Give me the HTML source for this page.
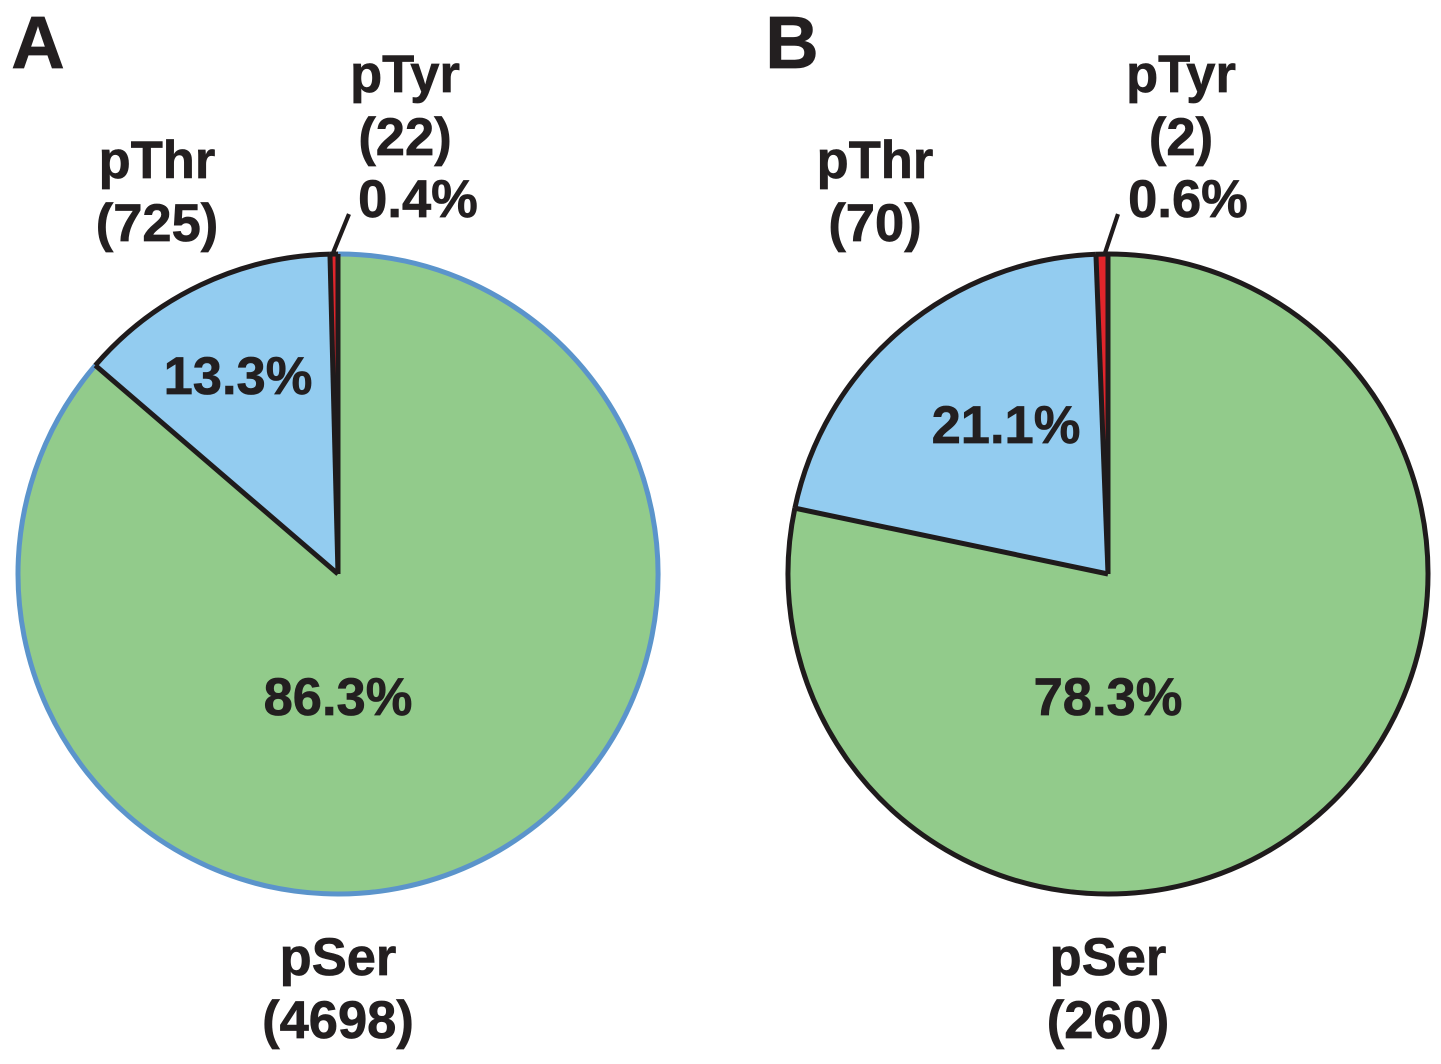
<!DOCTYPE html>
<html lang="en">
<head>
<meta charset="utf-8">
<title>Phosphosite distribution pie charts</title>
<style>
html,body{margin:0;padding:0;background:#fff;}
body{width:1441px;height:1064px;overflow:hidden;}
svg{display:block;}
text{font-family:"Liberation Sans",Arial,sans-serif;font-weight:700;fill:#231f20;stroke:#231f20;stroke-width:0.7px;text-anchor:middle;}
</style>
</head>
<body>
<svg id="chart" width="1441" height="1064" viewBox="0 0 1441 1064" xmlns="http://www.w3.org/2000/svg"></svg>
<script>
const categories = ['pSer', 'pThr', 'pTyr'];
const valuesA = [86.3, 13.3, 0.4];
const valuesB = [78.3, 21.1, 0.6];
const countsA = [4698, 725, 22];
const countsB = [260, 70, 2];

const NS = 'http://www.w3.org/2000/svg';
const svg = document.getElementById('chart');
const RADIUS = 320;
const CENTER_Y = 574;
const fills = ['#92cb8b', '#93ccf0', '#e1252b'];
const INK = '#1f1b1c';
const SIZE = 52.5;

function angleOf(cumulative, total) {
  return cumulative / total * 2 * Math.PI;
}
function pointAt(cx, angle, r) {
  return [cx + r * Math.sin(angle), CENTER_Y - r * Math.cos(angle)];
}
function make(tag, attrs) {
  const el = document.createElementNS(NS, tag);
  for (const k in attrs) el.setAttribute(k, attrs[k]);
  return el;
}
function label(parent, content, x, y, size, name) {
  const t = make('text', {x: x, y: y, 'font-size': size});
  t.textContent = content;
  
  
  parent.appendChild(t);
}
function arcPath(cx, a0, a1) {
  const p0 = pointAt(cx, a0, RADIUS);
  const p1 = pointAt(cx, a1, RADIUS);
  const large = a1 - a0 > Math.PI ? 1 : 0;
  return 'M' + p0[0] + ' ' + p0[1] + 'A' + RADIUS + ' ' + RADIUS + ' 0 ' + large + ' 1 ' + p1[0] + ' ' + p1[1];
}

function drawPie(panel, cx, values, firstArcColor, leaderShift, leaderRun) {
  const g = make('g', {});
  
  
  svg.appendChild(g);
  const total = values.reduce(function (a, b) { return a + b; }, 0);
  let cum = 0;
  const edges = [];
  values.forEach(function (v, i) {
    const a0 = angleOf(cum, total);
    cum += v;
    const a1 = angleOf(cum, total);
    edges.push(a0);
    const wedge = make('path', {
      d: arcPath(cx, a0, a1) + 'L' + cx + ' ' + CENTER_Y + 'Z',
      fill: fills[i]
    });
    
    
    g.appendChild(wedge);
  });
  cum = 0;
  values.forEach(function (v, i) {
    const a0 = angleOf(cum, total);
    cum += v;
    const a1 = angleOf(cum, total);
    const arc = make('path', {
      d: arcPath(cx, a0, a1),
      fill: 'none',
      stroke: i === 0 ? firstArcColor : INK,
      'stroke-width': 5
    });
    
    
    g.appendChild(arc);
  });
  edges.forEach(function (a) {
    const p = pointAt(cx, a, RADIUS);
    const line = make('line', {
      x1: cx, y1: CENTER_Y, x2: p[0], y2: p[1],
      stroke: INK, 'stroke-width': 5
    });
    
    
    g.appendChild(line);
  });
  // leader line from the smallest slice
  const mid = angleOf(total - values[2] / 2, total);
  const s = pointAt(cx, mid, RADIUS);
  const leader = make('line', {
    x1: s[0] + leaderShift, y1: s[1] - 1, x2: s[0] + leaderShift + leaderRun, y2: s[1] - 40,
    stroke: INK, 'stroke-width': 4.2
  });
  
  
  g.appendChild(leader);
  return g;
}

const gA = drawPie('a', 338, valuesA, '#5b94cb', -1, 16);
const gB = drawPie('b', 1108, valuesB, INK, 3, 13);

function pct(v) { return v.toFixed(1) + '%'; }
function paren(v) { return '(' + v + ')'; }

label(svg, 'A', 38, 68, 74, 'panel-label-a');
label(gA, categories[2], 405, 92, SIZE, 'ptyr-label-a');
label(gA, paren(countsA[2]), 405, 155, SIZE, 'ptyr-count-a');
label(gA, pct(valuesA[2]), 418, 217, SIZE, 'ptyr-percent-a');
label(gA, categories[1], 157, 178, SIZE, 'pthr-label-a');
label(gA, paren(countsA[1]), 157, 241, SIZE, 'pthr-count-a');
label(gA, pct(valuesA[1]), 238, 394, SIZE, 'pthr-percent-a');
label(gA, pct(valuesA[0]), 338, 715, SIZE, 'pser-percent-a');
label(gA, categories[0], 338, 975, SIZE, 'pser-label-a');
label(gA, paren(countsA[0]), 338, 1038, SIZE, 'pser-count-a');

label(svg, 'B', 792, 68, 74, 'panel-label-b');
label(gB, categories[2], 1181, 92, SIZE, 'ptyr-label-b');
label(gB, paren(countsB[2]), 1181, 155, SIZE, 'ptyr-count-b');
label(gB, pct(valuesB[2]), 1188, 217, SIZE, 'ptyr-percent-b');
label(gB, categories[1], 875, 178, SIZE, 'pthr-label-b');
label(gB, paren(countsB[1]), 875, 241, SIZE, 'pthr-count-b');
label(gB, pct(valuesB[1]), 1006, 443, SIZE, 'pthr-percent-b');
label(gB, pct(valuesB[0]), 1108, 715, SIZE, 'pser-percent-b');
label(gB, categories[0], 1108, 975, SIZE, 'pser-label-b');
label(gB, paren(countsB[0]), 1108, 1038, SIZE, 'pser-count-b');
</script>
</body>
</html>
